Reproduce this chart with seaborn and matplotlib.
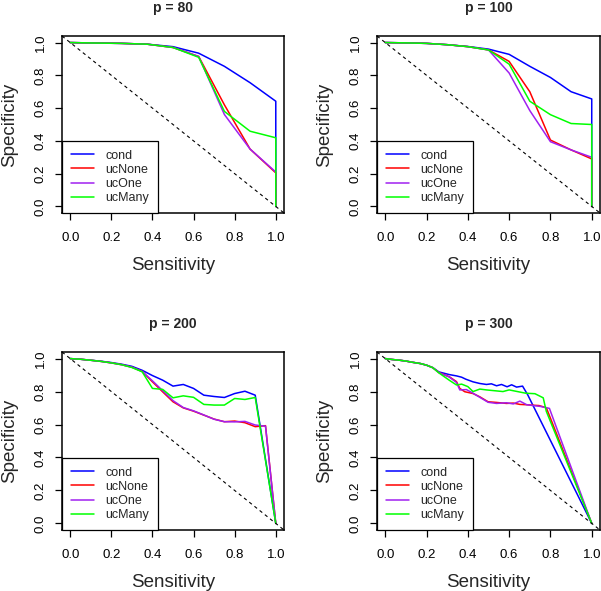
import numpy as np
import pandas as pd
import matplotlib
matplotlib.use('Agg')
import matplotlib.pyplot as plt
import seaborn as sns

# ---- data ----
methods = ['cond', 'ucNone', 'ucOne', 'ucMany']
colors = ['#0000FF', '#FF0000', '#A020F0', '#00FF00']
panel_titles = ['p = 80', 'p = 100', 'p = 200', 'p = 300']
ticks = [0.0, 0.2, 0.4, 0.6, 0.8, 1.0]

# p = 80
sens80 = [0, 0.125, 0.25, 0.375, 0.5, 0.625, 0.75, 0.875, 1.0, 1.0]
cond80 = [1.0, 0.997, 0.995, 0.99, 0.975, 0.935, 0.855, 0.755, 0.642, 0.0]
ucNone80 = [1.0, 0.997, 0.995, 0.99, 0.97, 0.915, 0.62, 0.35, 0.205, 0.0]
ucOne80 = [1.0, 0.997, 0.995, 0.99, 0.97, 0.915, 0.561, 0.35, 0.21, 0.0]
ucMany80 = [1.0, 0.997, 0.995, 0.99, 0.97, 0.91, 0.58, 0.459, 0.419, 0.0]

# p = 100
sens100 = [0, 0.1, 0.2, 0.3, 0.4, 0.5, 0.6, 0.7, 0.8, 0.9, 1.0, 1.0]
cond100 = [1.0, 0.998, 0.995, 0.987, 0.976, 0.96, 0.928, 0.855, 0.787, 0.70, 0.656, 0.0]
ucNone100 = [1.0, 0.998, 0.995, 0.987, 0.975, 0.955, 0.885, 0.70, 0.405, 0.345, 0.29, 0.0]
ucOne100 = [1.0, 0.998, 0.995, 0.987, 0.975, 0.955, 0.814, 0.585, 0.395, 0.345, 0.30, 0.0]
ucMany100 = [1.0, 0.998, 0.995, 0.987, 0.975, 0.955, 0.868, 0.642, 0.56, 0.506, 0.50, 0.0]

# p = 200
sens200_a = [0, .05, .1, .15, .2, .25, .3, .35, .4, .45, .5, .55, .6, .65, .7, .75, .8, .85, .9, 1.0]
sens200_b = [0, .05, .1, .15, .2, .25, .3, .35, .4, .45, .5, .55, .6, .65, .7, .75, .8, .85, .9, .95, 1.0]
cond200 = [1.0, .996, .99, .984, .976, .966, .953, .929, .897, .869, .833, .843, .819, .778, .770, .764,
           .788, .802, .778, 0.0]
ucNone200 = [1.0, .996, .99, .983, .974, .963, .948, .922, .859, .798, .738, .701, .681, .657, .633, .617,
             .621, .611, .587, .593, 0.0]
ucOne200 = [1.0, .996, .99, .983, .974, .963, .948, .922, .865, .805, .745, .703, .683, .658, .632, .617,
            .616, .619, .597, .590, 0.0]
ucMany200 = [1.0, .996, .99, .983, .974, .963, .946, .92, .819, .813, .762, .774, .765, .722, .718, .718,
             .758, .752, .764, 0.0]

# p = 300
sens300_cond = [0, .03, .07, .1, .13, .17, .2, .23, .26, .31, .345, .37, .39, .425, .458, .49, .514, .539,
                .563, .59, .612, .636, .665, .69, 1.0]
cond300 = [1.0, .995, .99, .985, .978, .97, .96, .945, .919, .903, .895, .887, .875, .859, .849, .843, .847,
           .835, .843, .829, .841, .827, .833, .78, 0.0]
sens300_none = [0, .03, .07, .1, .13, .17, .2, .23, .26, .31, .345, .361, .385, .425, .458, .498, .539, .587,
                .62, .652, .685, .717, .745, .78, 1.0]
ucNone300 = [1.0, .995, .99, .985, .978, .97, .96, .945, .915, .89, .86, .819, .799, .788, .768, .738, .734,
             .728, .73, .722, .72, .717, .715, .702, 0.0]
sens300_one = [0, .03, .07, .1, .13, .17, .2, .23, .26, .31, .345, .361, .393, .425, .458, .498, .539, .587,
               .62, .652, .685, .717, .75, .795, 1.0]
ucOne300 = [1.0, .995, .99, .985, .978, .97, .96, .945, .915, .888, .855, .81, .812, .79, .765, .735, .728,
            .732, .725, .742, .72, .715, .71, .698, 0.0]
sens300_many = [0, .03, .07, .1, .13, .17, .2, .23, .26, .312, .345, .37, .4, .425, .458, .49, .53, .57, .6,
                .64, .68, .725, .765, .78, 1.0]
ucMany300 = [1.0, .995, .99, .985, .978, .97, .96, .945, .913, .867, .84, .845, .83, .80, .815, .81, .805,
             .80, .81, .80, .79, .787, .762, .68, 0.0]

panels = [
    [(sens80, cond80), (sens80, ucNone80), (sens80, ucOne80), (sens80, ucMany80)],
    [(sens100, cond100), (sens100, ucNone100), (sens100, ucOne100), (sens100, ucMany100)],
    [(sens200_a, cond200), (sens200_b, ucNone200), (sens200_b, ucOne200), (sens200_a, ucMany200)],
    [(sens300_cond, cond300), (sens300_none, ucNone300), (sens300_one, ucOne300), (sens300_many, ucMany300)],
]

sns.set_style('ticks')
plt.rcParams['font.family'] = ['Liberation Sans', 'DejaVu Sans']

W, H = 601, 591
fig = plt.figure(figsize=(W / 100, H / 100), dpi=100)

# axes boxes in pixels: (left, top, right, bottom)
boxes = [(62, 36, 284, 213), (377, 36, 600, 213), (62, 352, 284, 530), (377, 352, 600, 530)]

for i, (title, series) in enumerate(zip(panel_titles, panels)):
    l, t, r, b = boxes[i]
    ax = fig.add_axes([l / W, 1 - b / H, (r - l) / W, (b - t) / H])

    frames = []
    for m, (xs, ys) in zip(methods, series):
        frames.append(pd.DataFrame({'Sensitivity': xs, 'Specificity': ys, 'method': m}))
    df = pd.concat(frames, ignore_index=True)

    sns.lineplot(data=df, x='Sensitivity', y='Specificity', hue='method', hue_order=methods,
                 palette=colors, sort=False, estimator=None, lw=1.1, legend=False, ax=ax)
    ax.axline((0, 1), slope=-1, color='black', lw=0.8, ls=(0, (3, 3)))

    ax.set_xlim(-0.04, 1.04)
    ax.set_ylim(-0.04, 1.04)
    ax.set_xticks(ticks)
    ax.set_yticks(ticks)
    ax.set_xticklabels([f'{v:.1f}' for v in ticks])
    ax.set_yticklabels([f'{v:.1f}' for v in ticks], rotation=90, va='center')
    ax.tick_params(direction='out', length=5, width=0.9, labelsize=9.5, colors='black')
    ax.tick_params(axis='x', pad=9)
    ax.tick_params(axis='y', pad=6)
    for s in ax.spines.values():
        s.set_color('black')
        s.set_linewidth(1.1)

    ax.set_title(title, fontsize=10, fontweight='bold', pad=17)
    ax.set_xlabel('Sensitivity', fontsize=13.5, labelpad=9)
    ax.set_ylabel('Specificity', fontsize=13.5, labelpad=12)

    leg = ax.legend(ax.get_lines()[:4], methods, loc='lower left', bbox_to_anchor=(0, 0),
                    borderaxespad=0, fancybox=False, framealpha=1, edgecolor='black',
                    fontsize=9, handlelength=1.85, handletextpad=0.9, labelspacing=0.18,
                    borderpad=0.7)
    leg.get_frame().set_linewidth(0.9)
    for h in leg.get_lines():
        h.set_linewidth(1.1)

fig.savefig('out.png', dpi=100)
